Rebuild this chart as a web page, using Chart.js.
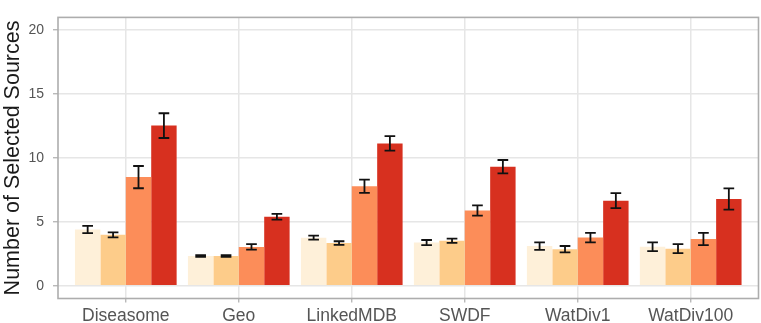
<!DOCTYPE html>
<html>
<head>
<meta charset="utf-8">
<script src="https://cdn.jsdelivr.net/npm/chart.js@4.4.1/dist/chart.umd.min.js"></script>
<style>
html,body{margin:0;padding:0;background:#fff;}
#wrap{width:761px;height:323px;}
</style>
</head>
<body>
<div id="wrap"><canvas id="c" width="761" height="323"></canvas></div>
<script>
const categories = ["Diseasome", "Geo", "LinkedMDB", "SWDF", "WatDiv1", "WatDiv100"];
const yTicks = [0, 5, 10, 15, 20];
const seriesNames = ["Series 1", "Series 2", "Series 3", "Series 4"];
const series1 = [4.40, 2.33, 3.76, 3.38, 3.10, 3.05];
const series2 = [3.98, 2.33, 3.34, 3.52, 2.86, 2.90];
const series3 = [8.50, 3.04, 7.79, 5.89, 3.77, 3.66];
const series4 = [12.53, 5.40, 11.14, 9.32, 6.66, 6.79];
const err1 = [0.28, 0.07, 0.16, 0.20, 0.30, 0.35];
const err2 = [0.20, 0.07, 0.14, 0.17, 0.25, 0.35];
const err3 = [0.87, 0.21, 0.52, 0.40, 0.37, 0.48];
const err4 = [0.97, 0.22, 0.57, 0.52, 0.59, 0.83];
const colors = ["#FEF0D9", "#FDCC8A", "#FC8D59", "#D7301F"];

const allSeries = [series1, series2, series3, series4];
const allErr = [err1, err2, err3, err4];

const datasets = allSeries.map((s, i) => ({
  label: seriesNames[i],
  data: s.map((v, j) => ({x: j, y: v})),
  backgroundColor: colors[i],
  borderWidth: 0,
  categoryPercentage: 0.9,
  barPercentage: 1.0,
  errors: allErr[i]
}));

const FONT = "'Liberation Sans', Arial, Helvetica, sans-serif";

const errorBars = {
  id: 'errorBars',
  afterDatasetsDraw(chart) {
    const ctx = chart.ctx;
    const ys = chart.scales.y;
    ctx.save();
    ctx.strokeStyle = '#111111';
    ctx.lineWidth = 1.8;
    chart.data.datasets.forEach((ds, i) => {
      const meta = chart.getDatasetMeta(i);
      meta.data.forEach((el, j) => {
        const v = ds.data[j].y, e = ds.errors[j];
        const yt = ys.getPixelForValue(v + e);
        const yb = ys.getPixelForValue(v - e);
        const half = el.width * 0.21;
        ctx.beginPath();
        ctx.moveTo(el.x, yt); ctx.lineTo(el.x, yb);
        ctx.moveTo(el.x - half, yt); ctx.lineTo(el.x + half, yt);
        ctx.moveTo(el.x - half, yb); ctx.lineTo(el.x + half, yb);
        ctx.stroke();
      });
    });
    ctx.restore();
  }
};

const panelBorder = {
  id: 'panelBorder',
  afterDraw(chart) {
    const a = chart.chartArea, ctx = chart.ctx;
    ctx.save();
    ctx.strokeStyle = '#adadad';
    ctx.lineWidth = 1.6;
    ctx.strokeRect(a.left, a.top, a.right - a.left, a.bottom - a.top);
    ctx.restore();
  }
};

new Chart(document.getElementById('c'), {
  type: 'bar',
  data: { datasets },
  options: {
    responsive: false,
    animation: false,
    layout: { padding: { top: 1.5, right: 2.5, left: 0, bottom: 0 } },
    plugins: { legend: { display: false }, tooltip: { enabled: false } },
    scales: {
      x: {
        type: 'linear',
        offset: false,
        min: -0.6,
        max: 5.6,
        afterBuildTicks(scale) { scale.ticks = categories.map((_, i) => ({ value: i })); },
        afterFit(scale) { scale.height = 24.5; },
        grid: { offset: false, color: '#e6e6e6', lineWidth: 1.5, tickColor: '#adadad', tickWidth: 1.2, tickLength: 4 },
        border: { display: false },
        ticks: {
          autoSkip: false, maxRotation: 0, padding: 3,
          color: '#555555',
          font: { family: FONT, size: 17.5 },
          callback: (v) => categories[v]
        }
      },
      y: {
        type: 'linear',
        min: -1,
        max: 21,
        afterBuildTicks(scale) { scale.ticks = yTicks.map(v => ({ value: v })); },
        afterFit(scale) { scale.width = 58; },
        grid: { color: '#e6e6e6', lineWidth: 1.5, tickColor: '#adadad', tickWidth: 1.2, tickLength: 5 },
        border: { display: false },
        ticks: {
          padding: 9,
          color: '#555555',
          font: { family: FONT, size: 14 }
        },
        title: {
          display: true,
          text: 'Number of Selected Sources',
          color: '#1a1a1a',
          padding: 0,
          font: { family: FONT, size: 21.5, lineHeight: 1.2 }
        }
      }
    }
  },
  plugins: [errorBars, panelBorder]
});
</script>
</body>
</html>
